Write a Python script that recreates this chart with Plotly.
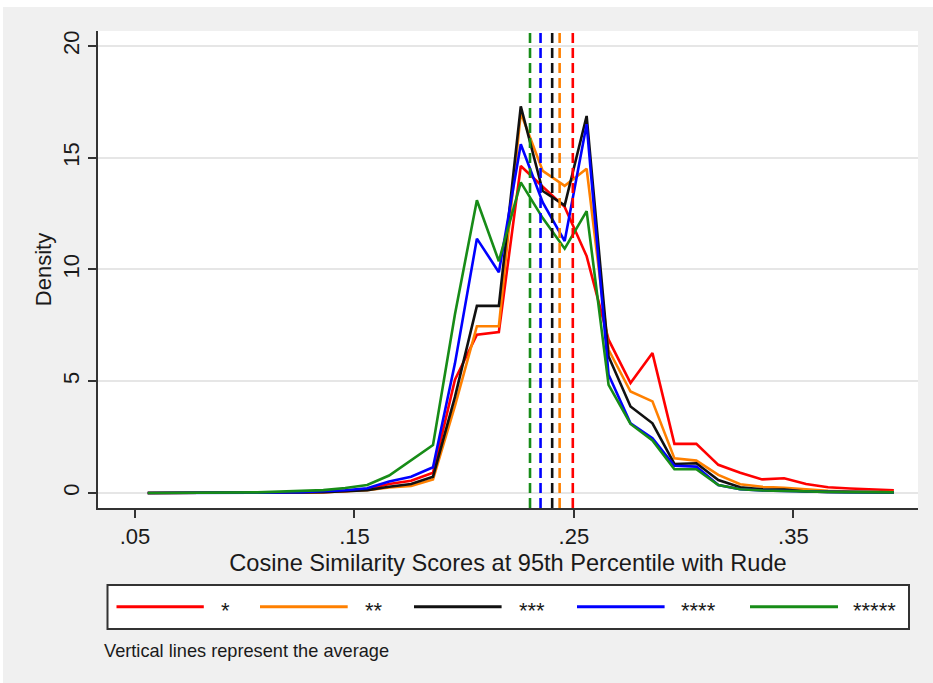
import plotly.graph_objects as go

# ---------------- data ----------------
x_vals = [0.0558, 0.0658, 0.0758, 0.0858, 0.0958, 0.1058, 0.1158, 0.1258, 0.1358,
          0.1458, 0.1558, 0.1658, 0.1758, 0.1858, 0.1958, 0.2058, 0.2158, 0.2258,
          0.2358, 0.2458, 0.2558, 0.2658, 0.2758, 0.2858, 0.2958, 0.3058, 0.3158,
          0.3258, 0.3358, 0.3458, 0.3558, 0.3658, 0.3758, 0.3858, 0.3958]

red = [0, 0, 0, 0, 0, 0.01, 0.02, 0.03, 0.04, 0.08, 0.17, 0.40, 0.55, 0.91, 5.07, 7.08,
       7.2, 14.63, 13.7, 12.8, 10.6, 6.86, 4.92, 6.26, 2.2, 2.2, 1.26, 0.91, 0.61, 0.66,
       0.4, 0.26, 0.2, 0.15, 0.12]
orange = [0, 0, 0, 0, 0, 0.01, 0.02, 0.03, 0.04, 0.08, 0.12, 0.25, 0.31, 0.61, 3.9, 7.46,
          7.46, 17.0, 14.41, 13.74, 14.51, 6.41, 4.54, 4.1, 1.55, 1.45, 0.81, 0.39, 0.28,
          0.23, 0.15, 0.1, 0.07, 0.05, 0.04]
black = [0, 0, 0, 0, 0, 0.01, 0.02, 0.03, 0.04, 0.08, 0.13, 0.28, 0.40, 0.73, 4.3, 8.37,
         8.37, 17.3, 13.51, 12.87, 16.87, 6.11, 3.87, 3.12, 1.3, 1.33, 0.58, 0.26, 0.17,
         0.15, 0.07, 0.05, 0.04, 0.03, 0.03]
blue = [0, 0, 0, 0, 0, 0.01, 0.02, 0.04, 0.07, 0.12, 0.21, 0.51, 0.73, 1.15, 5.8, 11.38,
        9.88, 15.6, 13.0, 11.27, 16.5, 5.29, 3.12, 2.45, 1.22, 1.18, 0.36, 0.17, 0.11,
        0.08, 0.07, 0.05, 0.04, 0.03, 0.03]
green = [0, 0, 0, 0, 0, 0.03, 0.06, 0.09, 0.13, 0.22, 0.36, 0.78, 1.48, 2.15, 8.0, 13.1,
         10.37, 13.9, 12.3, 10.93, 12.61, 4.84, 3.09, 2.35, 1.06, 1.06, 0.36, 0.17, 0.11,
         0.08, 0.07, 0.05, 0.04, 0.03, 0.03]

series_labels = ["*", "**", "***", "****", "*****"]
series_values = [red, orange, black, blue, green]
means = [0.2495, 0.2435, 0.2401, 0.2348, 0.2300]

x_tickvals = [0.05, 0.15, 0.25, 0.35]
x_ticktext = [".05", ".15", ".25", ".35"]
y_tickvals = [0, 5, 10, 15, 20]

# ---------------- styling ----------------
colors = ["#ff0000", "#ff8000", "#111111", "#0000ff", "#178c17"]
FONT = "Liberation Sans, Arial, sans-serif"
W, H = 933, 683
L, R, T, B = 98, 15, 31, 175
PW, PH = W - L - R, H - T - B


def px_x(p):
    return (p - L) / PW


def px_y(p):
    return (H - B - p) / PH


fig = go.Figure()
for lab, vals, col in zip(series_labels, series_values, colors):
    fig.add_trace(go.Scatter(x=x_vals, y=vals, mode="lines", name=lab,
                             line=dict(color=col, width=2.6), showlegend=False))

shapes = []
# white page edges (top strip and thin left strip)
shapes.append(dict(type="rect", xref="paper", yref="paper", layer="below",
                   x0=px_x(0), x1=px_x(W), y0=px_y(7), y1=px_y(0),
                   fillcolor="white", line=dict(width=0)))
shapes.append(dict(type="rect", xref="paper", yref="paper", layer="below",
                   x0=px_x(0), x1=px_x(3), y0=px_y(H), y1=px_y(0),
                   fillcolor="white", line=dict(width=0)))
# mean lines
for m, col in zip(means, colors):
    shapes.append(dict(type="line", xref="x", yref="paper", x0=m, x1=m, y0=0, y1=1,
                       line=dict(color=col, width=2.6, dash="10px,5px")))

# manual legend box
shapes.append(dict(type="rect", xref="paper", yref="paper",
                   x0=px_x(107.5), x1=px_x(909), y0=px_y(629), y1=px_y(585),
                   fillcolor="white", line=dict(color="#333333", width=2)))
leg_line_x = [(116.5, 203.8), (260, 347.7), (414, 501.6), (577, 664.6), (750, 838)]
leg_text_x = [219.6, 363.5, 517.5, 680, 852]
annotations = []
for (a, b), tx, col, lab in zip(leg_line_x, leg_text_x, colors, series_labels):
    shapes.append(dict(type="line", xref="paper", yref="paper",
                       x0=px_x(a), x1=px_x(b), y0=px_y(606.7), y1=px_y(606.7),
                       line=dict(color=col, width=3)))
    annotations.append(dict(text=lab, xref="paper", yref="paper", x=px_x(tx - 1), y=px_y(610),
                            xanchor="left", yanchor="middle", showarrow=False,
                            font=dict(family=FONT, size=22, color="#1a1a1a")))

annotations.append(dict(text="Vertical lines represent the average", xref="paper", yref="paper",
                        x=px_x(102), y=px_y(651), xanchor="left", yanchor="middle",
                        showarrow=False, font=dict(family=FONT, size=18.2, color="#1a1a1a")))

fig.update_layout(
    width=W, height=H,
    margin=dict(l=L, r=R, t=T, b=B, pad=0),
    paper_bgcolor="#f0f0f0",
    plot_bgcolor="white",
    font=dict(family=FONT, color="#1a1a1a"),
    shapes=shapes,
    annotations=annotations,
    showlegend=False,
    xaxis=dict(range=[0.03314, 0.4068], tickvals=x_tickvals, ticktext=x_ticktext,
               showgrid=False, zeroline=False, showline=True, linecolor="#333333",
               linewidth=1.5, ticks="outside", ticklen=8, tickwidth=1.5, tickcolor="#333333",
               tickfont=dict(size=22), title=dict(
                   text="Cosine Similarity Scores at 95th Percentile with Rude",
                   font=dict(size=23.6), standoff=6)),
    yaxis=dict(range=[-0.671, 20.67], tickvals=y_tickvals, showgrid=True,
               gridcolor="#e6e6e6", gridwidth=2, zeroline=False, showline=True,
               linecolor="#333333", linewidth=1.5, ticks="outside", ticklen=8, tickwidth=1.5,
               tickcolor="#333333", tickangle=-90, tickfont=dict(size=22),
               title=dict(text="Density", font=dict(size=22), standoff=2)),
)

fig.write_html("out.html")
